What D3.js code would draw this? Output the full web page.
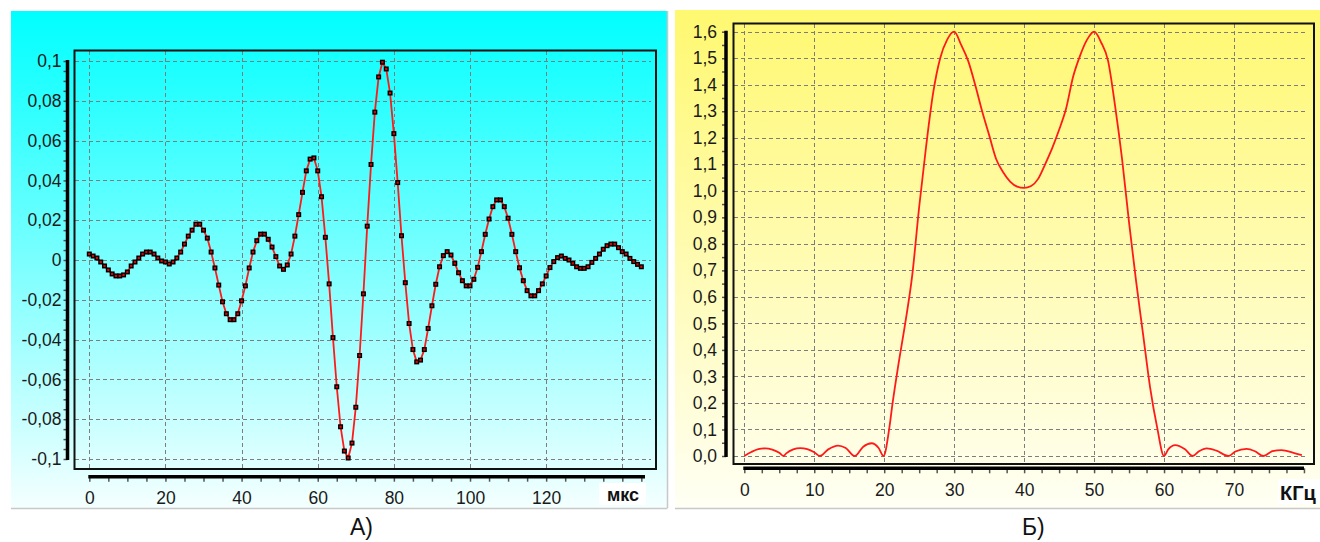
<!DOCTYPE html>
<html>
<head>
<meta charset="utf-8">
<script src="https://cdn.jsdelivr.net/npm/d3@7"></script>
<style>
  body { margin: 0; background: #fff; }
  text { font-family: "Liberation Sans", Arial, sans-serif; }
</style>
</head>
<body>
<script>
// ---- data: panel A (signal, one point per microsecond) ----
const timeUs = d3.range(0, 146);
const signalA = [
  0.003, 0.002, 0.001, -0.001, -0.003, -0.005, -0.007, -0.008, -0.008, -0.0075,
  -0.006, -0.003, -0.001, 0.001, 0.003, 0.004, 0.004, 0.003, 0.001, -0.0005,
  -0.001, -0.002, -0.001, 0.001, 0.004, 0.008, 0.012, 0.015, 0.018, 0.018,
  0.015, 0.011, 0.004, -0.004, -0.0126, -0.021, -0.027, -0.030, -0.030, -0.027,
  -0.0205, -0.013, -0.004, 0.004, 0.0097, 0.013, 0.013, 0.0104, 0.0065, 0.0017,
  -0.003, -0.0047, -0.0025, 0.003, 0.012, 0.0228, 0.034, 0.0448, 0.0507, 0.0513,
  0.0448, 0.0318, 0.0114, -0.012, -0.039, -0.0637, -0.0838, -0.096, -0.0995, -0.092,
  -0.074, -0.048, -0.017, 0.017, 0.048, 0.0743, 0.092, 0.0994, 0.096, 0.0839,
  0.0635, 0.0389, 0.0122, -0.0114, -0.0319, -0.045, -0.0512, -0.0503, -0.045, -0.0344,
  -0.023, -0.0122, -0.0034, 0.0022, 0.0042, 0.0025, -0.0017, -0.0064, -0.0104, -0.013,
  -0.013, -0.0097, -0.0037, 0.0042, 0.0129, 0.0206, 0.0268, 0.0302, 0.0302, 0.0268,
  0.021, 0.0129, 0.0042, -0.0039, -0.0104, -0.0154, -0.018, -0.018, -0.0154, -0.012,
  -0.008, -0.0038, -0.0008, 0.0012, 0.002, 0.0008, 0, -0.0017, -0.0034, -0.0042,
  -0.0042, -0.0034, -0.0012, 0.0008, 0.003, 0.0054, 0.0072, 0.008, 0.008, 0.0062,
  0.0042, 0.003, 0.0008, -0.0008, -0.0022, -0.0034
];
const yTicksA = [-0.1, -0.08, -0.06, -0.04, -0.02, 0, 0.02, 0.04, 0.06, 0.08, 0.1];
const yLabelsA = ['-0,1', '-0,08', '-0,06', '-0,04', '-0,02', '0', '0,02', '0,04', '0,06', '0,08', '0,1'];
const xTicksA = [0, 20, 40, 60, 80, 100, 120, 140];
const xLabelsA = ['0', '20', '40', '60', '80', '100', '120', ''];

// ---- data: panel Б (spectrum) ----
const freqKHz = [0, 1, 2, 3, 4, 5, 5.6, 6, 7, 8, 9, 10, 10.8, 12, 13.4, 14.5, 15.8, 17, 18.2, 19.2, 19.9,
  20.7, 21.2, 22, 23, 24, 25, 26, 27, 28, 29, 30, 31, 32, 33, 34, 35, 36, 37, 38, 39, 40,
  41, 42, 43, 44, 45, 46, 47, 48, 49, 50, 51, 52, 53, 54, 55, 56, 57, 58, 59, 60,
  60.6, 61.6, 63, 64.1, 65, 66.1, 67.5, 69.2, 70.2, 71.8, 73, 74.2, 75.5, 76.8, 78.5, 79.7];
const spectrumB = [0, 0.015, 0.026, 0.029, 0.024, 0.012, 0, 0.01, 0.025, 0.030, 0.026, 0.014, 0, 0.025, 0.039, 0.03, 0, 0.035, 0.048, 0.03, 0,
  0.1, 0.2, 0.34, 0.5, 0.68, 0.94, 1.17, 1.37, 1.5, 1.57, 1.6, 1.55, 1.49, 1.4, 1.3, 1.21, 1.12, 1.07, 1.035, 1.016, 1.011,
  1.018, 1.045, 1.1, 1.16, 1.23, 1.31, 1.43, 1.51, 1.57, 1.6, 1.56, 1.49, 1.32, 1.12, 0.88, 0.66, 0.46, 0.26, 0.11, 0,
  0.025, 0.041, 0.025, 0, 0.018, 0.029, 0.02, 0, 0.017, 0.027, 0.018, 0, 0.018, 0.022, 0.012, 0.003];
const yTicksB = d3.range(0, 17).map(i => i / 10);
const yLabelsB = yTicksB.map(v => v.toFixed(1).replace('.', ','));
const xTicksB = [0, 10, 20, 30, 40, 50, 60, 70];

const W = 1320, H = 542;
const svg = d3.select('body').append('svg').attr('width', W).attr('height', H);

const defs = svg.append('defs');
function grad(id, top, bottom) {
  const g = defs.append('linearGradient').attr('id', id).attr('x1', 0).attr('y1', 0).attr('x2', 0).attr('y2', 1);
  g.append('stop').attr('offset', '0%').attr('stop-color', top);
  g.append('stop').attr('offset', '100%').attr('stop-color', bottom);
}
grad('bgA', '#00ffff', '#f4ffff');
grad('bgB', '#fff870', '#fffff4');

const px = v => Math.round(v) + 0.5;
const gridStyle = sel => sel.attr('stroke', '#7d7d7d').attr('stroke-width', 1.4).attr('stroke-dasharray', '4,3')
  .attr('fill', 'none').attr('shape-rendering', 'crispEdges');

// draws one panel (background, box, grid, axes)
function panel(o) {
  const g = svg.append('g');
  g.append('rect').attr('x', o.bg[0]).attr('y', o.bg[1]).attr('width', o.bg[2]).attr('height', o.bg[3]).attr('fill', o.fill);
  g.append('line').attr('x1', o.bg[0]).attr('x2', o.bg[0] + o.bg[2]).attr('y1', o.bg[1] + o.bg[3] + 0.5).attr('y2', o.bg[1] + o.bg[3] + 0.5)
    .attr('stroke', '#c8c8c8').attr('stroke-width', 1.5);
  if (o.rightEdge) {
    g.append('line').attr('x1', o.bg[0] + o.bg[2]).attr('x2', o.bg[0] + o.bg[2]).attr('y1', o.bg[1]).attr('y2', o.bg[1] + o.bg[3])
      .attr('stroke', '#c8c8c8').attr('stroke-width', 1.5);
  }
  // grid
  g.selectAll('.hg').data(o.yTicks).enter().append('line')
    .attr('x1', o.box[0]).attr('x2', o.gridRight)
    .attr('y1', d => px(o.y(d))).attr('y2', d => px(o.y(d))).call(gridStyle);
  g.selectAll('.vg').data(o.xTicks).enter().append('line')
    .attr('x1', d => px(o.x(d))).attr('x2', d => px(o.x(d)))
    .attr('y1', o.box[1]).attr('y2', o.box[3]).call(gridStyle);
  // plot box
  g.append('rect').attr('x', o.box[0]).attr('y', o.box[1]).attr('width', o.box[2] - o.box[0]).attr('height', o.box[3] - o.box[1])
    .attr('fill', 'none').attr('stroke', '#111').attr('stroke-width', 2);

  // y axis
  const yAxis = d3.axisLeft(o.y).tickValues(o.yMinor).tickSize(5).tickPadding(o.yPad).tickFormat(d => {
    const i = o.yTicks.findIndex(t => Math.abs(t - d) < 1e-9);
    return i >= 0 ? o.yLabels[i] : '';
  });
  const ya = g.append('g').attr('transform', `translate(${o.yAxisX},0)`).call(yAxis);
  ya.select('.domain').remove();
  ya.selectAll('.tick line').attr('stroke', '#555').attr('stroke-width', 1.5).attr('x2', -4);
  ya.selectAll('.tick text').attr('fill', '#1a1a1a').style('font-size', '17.5px');
  ya.append('line').attr('x1', 0).attr('x2', 0).attr('y1', o.y(o.yTicks[o.yTicks.length - 1]) - 1).attr('y2', o.y(o.yTicks[0]) + 1)
    .attr('stroke', '#000').attr('stroke-width', 3.5);

  // x axis
  const xAxis = d3.axisBottom(o.x).tickValues(o.xMinor).tickSize(5).tickFormat(d => {
    const i = o.xTicks.indexOf(d);
    return i >= 0 ? o.xLabels[i] : '';
  });
  const xa = g.append('g').attr('transform', `translate(0,${o.xAxisY})`).call(xAxis);
  xa.select('.domain').remove();
  xa.selectAll('.tick line').attr('stroke', '#555').attr('stroke-width', 1.5);
  xa.selectAll('.tick text').attr('fill', '#1a1a1a').style('font-size', '17.5px').attr('y', o.xLabelY).attr('dy', 0);
  xa.append('line').attr('x1', o.x(0) - 1).attr('x2', o.xEnd).attr('y1', 0).attr('y2', 0)
    .attr('stroke', '#000').attr('stroke-width', 3.5);

  // unit label
  g.append('rect').attr('x', o.unit.box[0]).attr('y', o.unit.box[1]).attr('width', o.unit.box[2]).attr('height', o.unit.box[3]).attr('fill', '#fff');
  g.append('text').attr('x', o.unit.x).attr('y', o.unit.y).attr('text-anchor', 'middle')
    .style('font-weight', 'bold').style('font-size', o.unit.size).attr('fill', '#111').text(o.unit.text);
  // panel caption
  g.append('text').attr('x', o.caption.x).attr('y', 535).style('font-size', '23px').attr('fill', '#111').text(o.caption.text);
  return g;
}

// ---- panel A ----
const xA = d3.scaleLinear().domain([0, 140]).range([89.3, 622.3]);
const yA = d3.scaleLinear().domain([-0.1, 0.1]).range([459, 61]);
const gA = panel({
  bg: [11, 11, 656.5, 497], fill: 'url(#bgA)', rightEdge: true,
  box: [74.5, 50.5, 656, 469], gridRight: 651,
  x: xA, y: yA, yTicks: yTicksA, yLabels: yLabelsA, xTicks: xTicksA, xLabels: xLabelsA,
  yMinor: d3.range(-20, 21).map(i => i * 0.005), yAxisX: 67.5, yPad: 1,
  xMinor: d3.range(0, 146, 5), xAxisY: 476.7, xLabelY: 27.5, xEnd: 645,
  unit: { text: 'мкс', x: 623, y: 501, size: '18px', box: [599, 483, 47, 22] },
  caption: { text: 'А)', x: 350 }
});

const lineA = d3.line().x((d, i) => xA(timeUs[i])).y(d => yA(d));
gA.append('path').datum(signalA).attr('d', lineA).attr('fill', 'none').attr('stroke', '#ff1a1a').attr('stroke-width', 1.8);
gA.selectAll('.pt').data(signalA).enter().append('rect')
  .attr('x', (d, i) => xA(timeUs[i]) - 1.8).attr('y', d => yA(d) - 1.8)
  .attr('width', 3.6).attr('height', 3.6)
  .attr('fill', '#e00000').attr('stroke', '#000').attr('stroke-width', 1.4);

// ---- panel Б ----
const xB = d3.scaleLinear().domain([0, 70]).range([744.3, 1234]);
const yB = d3.scaleLinear().domain([0, 1.6]).range([456, 31.7]);
const gB = panel({
  bg: [675, 10, 645, 498], fill: 'url(#bgB)', rightEdge: false,
  box: [733.5, 23.5, 1314, 464], gridRight: 1308,
  x: xB, y: yB, yTicks: yTicksB, yLabels: yLabelsB, xTicks: xTicksB, xLabels: xTicksB.map(String),
  yMinor: d3.range(0, 33).map(i => i * 0.05), yAxisX: 726, yPad: 4,
  xMinor: d3.range(0, 33).map(i => i * 2.5), xAxisY: 468.3, xLabelY: 27.5, xEnd: 1304,
  unit: { text: 'КГц', x: 1298, y: 500, size: '20px', box: [1278, 479, 42, 25] },
  caption: { text: 'Б)', x: 1022 }
});

const lineB = d3.line().x((d, i) => xB(freqKHz[i])).y(d => yB(d)).curve(d3.curveMonotoneX);
gB.append('path').datum(spectrumB).attr('d', lineB).attr('fill', 'none').attr('stroke', '#ff1a1a').attr('stroke-width', 1.8);
</script>
</body>
</html>
